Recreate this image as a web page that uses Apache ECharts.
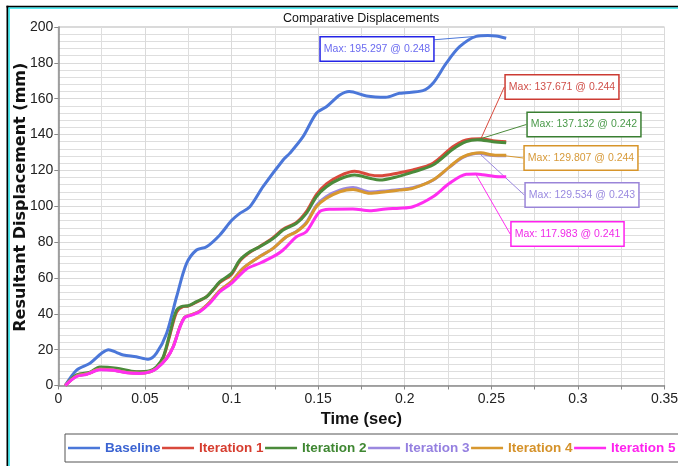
<!DOCTYPE html>
<html>
<head>
<meta charset="utf-8">
<title>Comparative Displacements</title>
<script src="https://cdn.jsdelivr.net/npm/echarts@6/dist/echarts.min.js"></script>
<style>
  html, body { margin: 0; padding: 0; background: #fff; }
  #chart { width: 678px; height: 466px; }
</style>
</head>
<body>
<div id="chart"></div>
<script>
// Resultant displacement (mm) against time (sec), pairs of [time, displacement]
const baseline = [[0.004,0],[0.0106,8.6],[0.0183,12.4],[0.025,18],[0.029,20],[0.0335,18.5],[0.0375,17],[0.045,16],[0.052,14.6],[0.0567,18],[0.0625,29],[0.0683,49.5],[0.074,68],[0.0798,75.6],[0.0856,77.4],[0.0933,84],[0.1,92],[0.1048,96],[0.1106,99.7],[0.1182,110.9],[0.1298,125.8],[0.1336,129.5],[0.1413,138.8],[0.149,151.9],[0.1548,155.5],[0.1625,162],[0.168,164],[0.178,161.5],[0.189,160.8],[0.197,163],[0.2105,164.5],[0.2163,168.6],[0.224,179.8],[0.2317,189],[0.2413,194.8],[0.248,195.297],[0.2528,195],[0.2586,193.7]];
const iteration1 = [[0.004,0],[0.0106,5.6],[0.0183,7],[0.024,9.5],[0.0337,9.2],[0.045,7.5],[0.0529,8],[0.0567,10],[0.0606,15.5],[0.0644,28],[0.0683,41],[0.072,44],[0.075,44.3],[0.0798,46.5],[0.0856,49.5],[0.0894,53.3],[0.0933,57.5],[0.1,62],[0.1048,69.5],[0.1106,74.3],[0.1163,77.6],[0.124,82.5],[0.1298,87.2],[0.1375,91],[0.1432,97],[0.149,106.5],[0.1548,112.5],[0.1625,117],[0.1711,119.5],[0.1798,117.5],[0.1855,117],[0.197,118.7],[0.2047,120.2],[0.2163,124],[0.2278,133.2],[0.2355,137],[0.244,137.671],[0.2509,136.6],[0.2586,136]];
const iteration2 = [[0.004,0],[0.0106,5.9],[0.0183,7.5],[0.024,10.3],[0.0337,9.6],[0.045,7.7],[0.0529,8.3],[0.0567,10.5],[0.0606,16],[0.0644,29],[0.0683,42],[0.072,44.3],[0.075,44.5],[0.0798,46.8],[0.0856,49.5],[0.0894,53.5],[0.0933,58],[0.1,62.6],[0.1048,70],[0.1106,74.6],[0.1163,77.4],[0.124,82],[0.1298,86.7],[0.1375,90.5],[0.1432,96],[0.149,105.3],[0.1548,110.9],[0.1625,115.2],[0.1711,117.4],[0.1798,115.6],[0.1855,114.6],[0.197,116.8],[0.2047,119],[0.2163,123],[0.2278,131.8],[0.2355,136],[0.242,137.132],[0.2509,136],[0.2586,135.4]];
const iteration3 = [[0.004,0],[0.0106,5.3],[0.0164,6.4],[0.024,9],[0.0317,8.6],[0.0394,7.2],[0.0471,6.8],[0.0529,7.7],[0.0567,9.6],[0.0625,15.2],[0.0663,21.6],[0.0702,32.8],[0.0731,38.2],[0.077,39.5],[0.0817,41.6],[0.0875,46.6],[0.0933,53],[0.1,58],[0.1067,65.5],[0.1163,72],[0.124,76.5],[0.1317,83],[0.1375,86],[0.1432,91],[0.149,100.5],[0.1548,105.5],[0.1625,109],[0.1702,110.5],[0.1798,108],[0.189,108.5],[0.197,109.3],[0.2047,110.3],[0.2163,114.5],[0.2259,121.8],[0.2336,127.3],[0.243,129.534],[0.2509,128.3],[0.2586,128.2]];
const iteration4 = [[0.004,0],[0.0106,5.3],[0.0164,6.4],[0.024,9],[0.0317,8.6],[0.0394,7.2],[0.0471,6.8],[0.0529,7.7],[0.0567,9.6],[0.0625,15.2],[0.0663,21.6],[0.0702,32.8],[0.0731,38.2],[0.077,39.5],[0.0817,41.5],[0.0875,46.5],[0.0933,53],[0.1,58],[0.1067,65.4],[0.1163,71.9],[0.124,76.5],[0.1317,83],[0.1375,85.8],[0.1432,90.5],[0.149,99.7],[0.1548,104.4],[0.1625,108.1],[0.1702,109.4],[0.1798,107.2],[0.189,108.1],[0.197,109],[0.2047,110],[0.2163,114.6],[0.2259,122],[0.2336,127.6],[0.244,129.807],[0.2509,128.6],[0.2586,128.4]];
const iteration5 = [[0.004,0],[0.0106,5],[0.0164,6.2],[0.024,8.8],[0.0317,8.5],[0.0394,7.1],[0.0471,6.7],[0.0529,7.6],[0.0567,9.4],[0.0625,15],[0.0663,21.4],[0.0702,32.5],[0.0731,38],[0.077,39.3],[0.0817,41.2],[0.0875,45.9],[0.0933,52.3],[0.1,57],[0.1087,65],[0.1163,68.2],[0.124,71.9],[0.1298,75.6],[0.1375,83],[0.1432,85.8],[0.1509,97],[0.1567,98.3],[0.17,98.5],[0.1798,97.5],[0.189,98.5],[0.197,98.9],[0.2047,99.7],[0.2163,105.3],[0.2259,112.8],[0.2355,117.8],[0.241,117.983],[0.2451,117.6],[0.2547,116.5],[0.2586,116.5]];

const seriesNames = ['Baseline', 'Iteration 1', 'Iteration 2', 'Iteration 3', 'Iteration 4', 'Iteration 5'];
const xTicks = [0, 0.05, 0.1, 0.15, 0.2, 0.25, 0.3, 0.35];
const yTicks = [0, 20, 40, 60, 80, 100, 120, 140, 160, 180, 200];

const allData = [baseline, iteration1, iteration2, iteration3, iteration4, iteration5];

// line, legend text, callout border, callout text colours
const lineColors   = ['#4b77d9', '#d9493c', '#4b8b3b', '#9b88df', '#d8982f', '#ff2ef0'];
const legendColors = ['#3c64d2', '#d63d2f', '#3f8732', '#9580e0', '#d5922a', '#ff22ee'];
const boxBorders   = ['#2424e6', '#cc3b33', '#3a7f32', '#9a85d8', '#d7952a', '#ff22ee'];
const boxTexts     = ['#6b6bf0', '#d0504a', '#4a9a4a', '#9a8ae0', '#d79a3a', '#f02ae8'];
// centre of each "Max" callout box, in pixels
const boxCentres = [[377, 49], [562, 87], [584, 124.5], [582, 195], [581, 158], [567.5, 234]];

const SANS = "'Liberation Sans', Arial, sans-serif";

function maxIndex(arr) {
  let k = 0;
  arr.forEach((p, i) => { if (p[1] > arr[k][1]) k = i; });
  return k;
}

const series = allData.map((arr, s) => {
  const mi = maxIndex(arr);
  const data = arr.map((p, i) => {
    if (i !== mi) return { value: p };
    return {
      value: p,
      label: {
        show: true,
        formatter: () => 'Max: ' + p[1] + ' @ ' + p[0],
        fontFamily: SANS,
        fontSize: 10.5,
        lineHeight: 13,
        color: boxTexts[s],
        backgroundColor: '#fff',
        borderColor: boxBorders[s],
        borderWidth: 1.5,
        padding: [5, 3, 5, 3],
        align: 'center',
        verticalAlign: 'middle'
      },
      labelLine: { show: true, lineStyle: { color: lineColors[s], width: 1 } }
    };
  });
  return {
    name: seriesNames[s],
    type: 'line',
    data: data,
    smooth: 0.3,
    symbol: 'circle',
    symbolSize: 0,
    showSymbol: true,
    showAllSymbol: true,
    silent: true,
    z: 3 + s,
    lineStyle: { color: lineColors[s], width: 3 },
    itemStyle: { color: lineColors[s] },
    label: { show: false },
    labelLayout: (params) => {
      if (params.dataIndex !== mi) return {};
      return { x: boxCentres[s][0], y: boxCentres[s][1], align: 'center', verticalAlign: 'middle' };
    }
  };
});

const chart = echarts.init(document.getElementById('chart'), null, { renderer: 'canvas' });

chart.setOption({
  animation: false,
  backgroundColor: '#fff',
  title: {
    text: 'Comparative Displacements',
    left: 283,
    top: 12,
    padding: 0,
    textStyle: { fontFamily: SANS, fontSize: 12.5, fontWeight: 'normal', color: '#111' }
  },
  grid: {
    left: 58.3, right: 13.5, top: 27, bottom: 80.5,
    outerBoundsMode: 'none',
    containLabel: false,
    show: true, borderColor: '#b4b4b4', borderWidth: 1, backgroundColor: '#fff'
  },
  legend: {
    left: 65, top: 434,
    width: 640,
    padding: [7, 4, 7, 3],
    itemGap: 1.5,
    itemWidth: 32, itemHeight: 2.5,
    icon: 'rect',
    borderColor: '#555', borderWidth: 1,
    backgroundColor: '#fff',
    selectedMode: false,
    textStyle: { fontFamily: SANS, fontSize: 13.5, fontWeight: 'bold' },
    data: seriesNames.map((n, i) => ({ name: n, textStyle: { color: legendColors[i] } }))
  },
  xAxis: {
    type: 'value',
    min: xTicks[0], max: xTicks[xTicks.length - 1], interval: 0.05,
    name: 'Time (sec)',
    nameLocation: 'middle',
    nameGap: 25,
    nameMoveOverlap: false,
    nameTextStyle: { fontFamily: SANS, fontSize: 16.5, fontWeight: 'bold', color: '#111' },
    axisLine: { show: true, lineStyle: { color: '#8a8a8a', width: 1.5 } },
    axisTick: { show: true, length: 4, lineStyle: { color: '#8a8a8a' } },
    minorTick: { show: true, splitNumber: 2, length: 4, lineStyle: { color: '#8a8a8a' } },
    axisLabel: {
      margin: 7, fontFamily: SANS, fontSize: 14, color: '#222',
      formatter: (v) => String(+v.toFixed(3))
    },
    splitLine: { show: true, lineStyle: { color: '#dadada', width: 1 } },
    minorSplitLine: { show: true, lineStyle: { color: '#dedede', width: 1 } }
  },
  yAxis: {
    type: 'value',
    min: yTicks[0], max: yTicks[yTicks.length - 1], interval: 20,
    name: 'Resultant Displacement (mm)',
    nameLocation: 'middle',
    nameGap: 29,
    nameMoveOverlap: false,
    nameTextStyle: {
      fontFamily: "'DejaVu Sans', Verdana, sans-serif", fontSize: 16, fontWeight: 'bold', color: '#111',
      padding: [0, 0, 0, 18]
    },
    axisLine: { show: true, lineStyle: { color: '#8a8a8a', width: 1.5 } },
    axisTick: { show: true, length: 4, lineStyle: { color: '#8a8a8a' } },
    minorTick: { show: false },
    axisLabel: { margin: 5, fontFamily: SANS, fontSize: 14, color: '#222' },
    splitLine: { show: true, lineStyle: { color: '#dadada', width: 1 } },
    minorSplitLine: { show: true, lineStyle: { color: '#dedede', width: 1 } }
  },
  graphic: [
    // page frame: black rule with a cyan inner edge along the top and left
    { type: 'rect', shape: { x: 6.5, y: 5.8, width: 672, height: 1.8 }, style: { fill: '#000' }, z: 100 },
    { type: 'rect', shape: { x: 8.5, y: 7.6, width: 670, height: 1.2 }, style: { fill: '#19e6ee' }, z: 100 },
    { type: 'rect', shape: { x: 6.5, y: 5.8, width: 1.9, height: 461 }, style: { fill: '#000' }, z: 100 },
    { type: 'rect', shape: { x: 8.4, y: 7.6, width: 1.4, height: 459 }, style: { fill: '#19e6ee' }, z: 100 }
  ],
  series: series
});
</script>
</body>
</html>
